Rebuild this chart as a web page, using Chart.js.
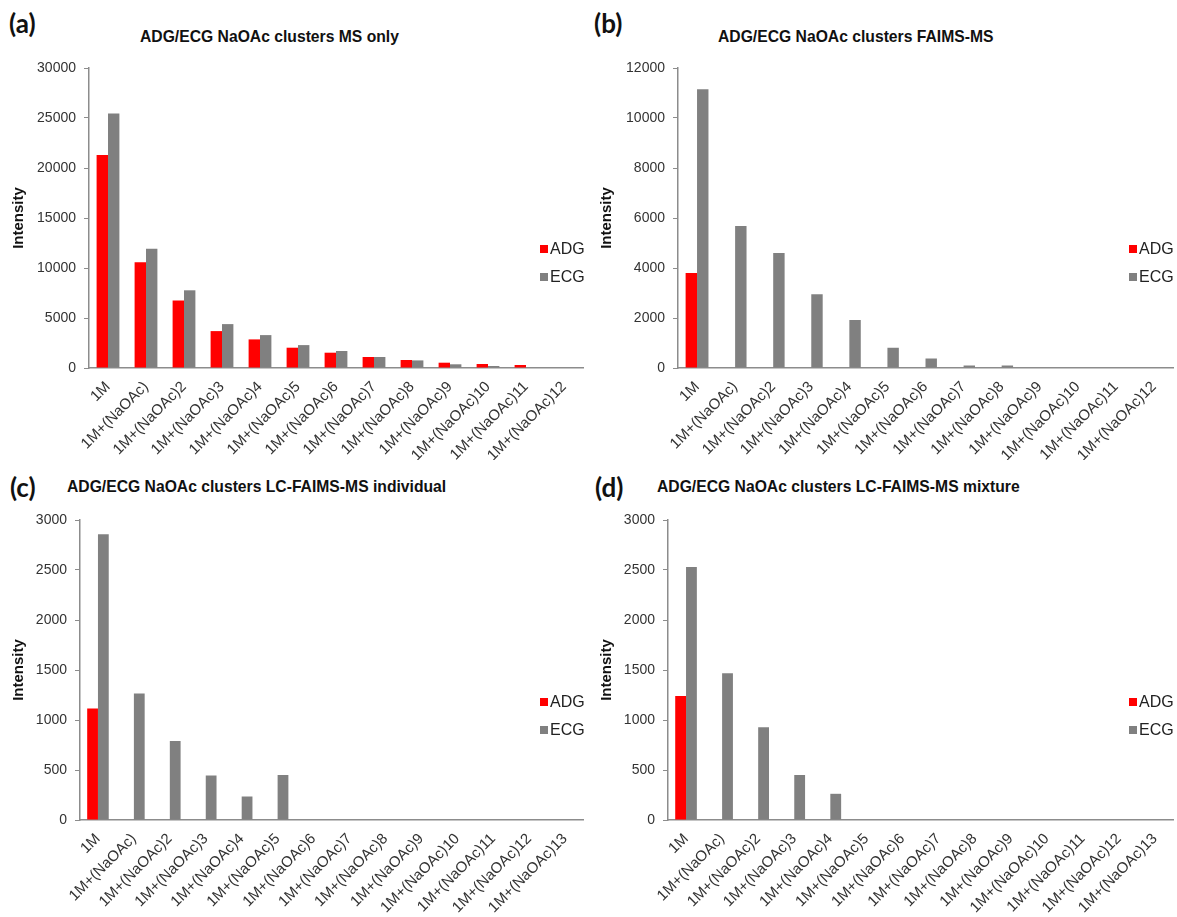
<!DOCTYPE html>
<html>
<head>
<meta charset="utf-8">
<script src="https://cdn.jsdelivr.net/npm/chart.js@4.4.1/dist/chart.umd.min.js"></script>
<style>
  body { margin: 0; background: #fff; width: 1177px; height: 917px; position: relative; overflow: hidden;
         font-family: "Liberation Sans", Arial, sans-serif; }
  canvas { position: absolute; }
  .panel { position: absolute; font-family: Lato, "Open Sans", sans-serif; font-weight: bold;
           font-size: 26px; line-height: 30px; color: #111; }
  .title { position: absolute; font-weight: bold; font-size: 15.7px; line-height: 18px; color: #111; white-space: nowrap; }
</style>
</head>
<body>
<div class="panel" style="left:9px;top:8px">(a)</div>
<div class="panel" style="left:594px;top:8px">(b)</div>
<div class="panel" style="left:10px;top:472px">(c)</div>
<div class="panel" style="left:595px;top:472px">(d)</div>
<div class="title" style="left:140px;top:28px">ADG/ECG NaOAc clusters MS only</div>
<div class="title" style="left:718px;top:28px">ADG/ECG NaOAc clusters FAIMS-MS</div>
<div class="title" style="left:67px;top:478px">ADG/ECG NaOAc clusters LC-FAIMS-MS individual</div>
<div class="title" style="left:657px;top:478px">ADG/ECG NaOAc clusters LC-FAIMS-MS mixture</div>

<canvas id="chartA" width="588" height="460" style="left:0;top:0"></canvas>
<canvas id="chartB" width="589" height="460" style="left:588px;top:0"></canvas>
<canvas id="chartC" width="588" height="457" style="left:0;top:460px"></canvas>
<canvas id="chartD" width="589" height="457" style="left:588px;top:460px"></canvas>

<script>
// cluster labels (top charts go to 12, bottom charts to 13)
const clustersTop = ['1M', '1M+(NaOAc)', '1M+(NaOAc)2', '1M+(NaOAc)3', '1M+(NaOAc)4', '1M+(NaOAc)5',
  '1M+(NaOAc)6', '1M+(NaOAc)7', '1M+(NaOAc)8', '1M+(NaOAc)9', '1M+(NaOAc)10', '1M+(NaOAc)11', '1M+(NaOAc)12'];
const clustersBottom = clustersTop.concat(['1M+(NaOAc)13']);

// (a) MS only
const msOnlyADG = [21300, 10570, 6750, 3690, 2860, 2030, 1530, 1100, 800, 530, 400, 300, 0];
const msOnlyECG = [25450, 11930, 7770, 4390, 3290, 2290, 1700, 1100, 760, 370, 200, 0, 0];

// (b) FAIMS-MS
const faimsADG = [3800, 0, 0, 0, 0, 0, 0, 0, 0, 0, 0, 0, 0];
const faimsECG = [11150, 5680, 4600, 2950, 1920, 810, 380, 100, 100, 0, 0, 0, 0];

// (c) LC-FAIMS-MS individual
const lcIndivADG = [1115, 0, 0, 0, 0, 0, 0, 0, 0, 0, 0, 0, 0, 0];
const lcIndivECG = [2857, 1265, 790, 445, 235, 450, 0, 0, 0, 0, 0, 0, 0, 0];

// (d) LC-FAIMS-MS mixture
const lcMixADG = [1240, 0, 0, 0, 0, 0, 0, 0, 0, 0, 0, 0, 0, 0];
const lcMixECG = [2530, 1467, 927, 450, 262, 0, 0, 0, 0, 0, 0, 0, 0, 0];

const RED = '#ff0000';
const GREY = '#808080';
const AXIS = '#8c8c8c';
const FONT = '"Liberation Sans", Arial, sans-serif';

// small legend drawn over the right side of the plot, like Excel does
const sideLegend = {
  id: 'sideLegend',
  afterDraw(chart, args, opts) {
    const ctx = chart.ctx;
    ctx.save();
    ctx.font = '16px ' + FONT;
    ctx.textBaseline = 'middle';
    chart.data.datasets.forEach((ds, i) => {
      const y = opts.y + i * opts.gap;
      ctx.fillStyle = ds.backgroundColor;
      ctx.fillRect(opts.x, y - 4, 8, 8);
      ctx.fillStyle = '#222';
      ctx.fillText(ds.label, opts.x + 10, y + 1);
    });
    ctx.restore();
  }
};

function makeChart(id, labels, adg, ecg, yMax, yStep, box) {
  const ctx = document.getElementById(id).getContext('2d');
  return new Chart(ctx, {
    type: 'bar',
    data: {
      labels: labels,
      datasets: [
        { label: 'ADG', data: adg, backgroundColor: RED },
        { label: 'ECG', data: ecg, backgroundColor: GREY }
      ]
    },
    options: {
      responsive: false,
      animation: false,
      layout: { padding: { top: box.top, right: box.right, left: 0, bottom: 0 } },
      datasets: { bar: { categoryPercentage: 0.6, barPercentage: 1.0 } },
      plugins: {
        legend: { display: false },
        tooltip: { enabled: false },
        sideLegend: { x: box.legendX, y: box.legendY, gap: 28 }
      },
      scales: {
        x: {
          grid: { display: false },
          border: { color: AXIS, width: 1.5 },
          ticks: { minRotation: 45, maxRotation: 45, autoSkip: false, padding: 2,
                   color: '#333', font: { family: FONT, size: 15 } },
          afterFit(scale) { scale.height = box.axisH; }
        },
        y: {
          min: 0, max: yMax,
          grid: { drawOnChartArea: false, tickLength: 5, color: AXIS },
          border: { color: AXIS, width: 1.5 },
          ticks: { stepSize: yStep, padding: 8, color: '#333',
                   font: { family: FONT, size: 14 }, callback: v => String(v) },
          title: { display: true, text: 'Intensity', color: '#111', padding: { top: 10 },
                   font: { family: FONT, size: 15, weight: 'bold' } },
          afterFit(scale) { scale.width = box.axisW; }
        }
      }
    },
    plugins: [sideLegend]
  });
}

makeChart('chartA', clustersTop, msOnlyADG, msOnlyECG, 30000, 5000,
  { top: 68, right: 5, axisW: 89, axisH: 92, legendX: 540, legendY: 249 });
makeChart('chartB', clustersTop, faimsADG, faimsECG, 12000, 2000,
  { top: 68, right: 4, axisW: 90, axisH: 92, legendX: 541, legendY: 249 });
makeChart('chartC', clustersBottom, lcIndivADG, lcIndivECG, 3000, 500,
  { top: 60, right: 5, axisW: 80, axisH: 97, legendX: 540, legendY: 242 });
makeChart('chartD', clustersBottom, lcMixADG, lcMixECG, 3000, 500,
  { top: 60, right: 4, axisW: 80, axisH: 97, legendX: 541, legendY: 242 });
</script>
</body>
</html>
